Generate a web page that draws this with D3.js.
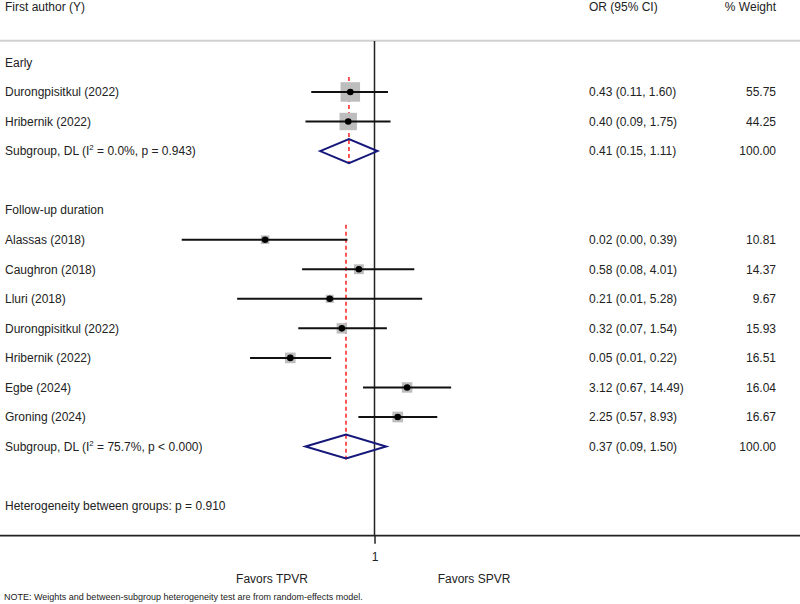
<!DOCTYPE html>
<html>
<head>
<meta charset="utf-8">
<script src="https://cdn.jsdelivr.net/npm/d3@7"></script>
<style>
  body { margin: 0; background: #fff; }
  text { font-family: "Liberation Sans", Arial, sans-serif; fill: #222; }
</style>
</head>
<body>
<script>
// rows of the table, top to bottom (row index = position)
const studies = ['Durongpisitkul (2022)', 'Hribernik (2022)',
    'Alassas (2018)', 'Caughron (2018)', 'Lluri (2018)', 'Durongpisitkul (2022)',
    'Hribernik (2022)', 'Egbe (2024)', 'Groning (2024)'];
const studyRow = [1, 2, 6, 7, 8, 9, 10, 11, 12];
const orValue = [0.43, 0.40, 0.022, 0.58, 0.21, 0.32, 0.053, 3.12, 2.25];
const ciLow = [0.11, 0.09, 0.0012, 0.08, 0.0083, 0.07, 0.013, 0.67, 0.57];
const ciHigh = [1.60, 1.75, 0.39, 4.01, 5.28, 1.54, 0.22, 14.49, 8.93];
const weights = [55.75, 44.25, 10.81, 14.37, 9.67, 15.93, 16.51, 16.04, 16.67];

const groupNames = ['Early', 'Follow-up duration'];
const groupRow = [0, 5];
const subRow = [3, 13];
const subI2 = ['0.0%', '75.7%'];
const subP = ['p = 0.943', 'p < 0.000'];
const subOR = [0.41, 0.37];
const subLow = [0.15, 0.09];
const subHigh = [1.11, 1.50];
const subFirstRow = [1, 6];

const hetText = 'Heterogeneity between groups: p = 0.910';
const hetRow = 15;
const xTicks = [1];

const width = 800, height = 604;
const colOR = 589, colW = 776;

const svg = d3.select('body').append('svg')
    .attr('width', width)
    .attr('height', height);

const x = d3.scaleLog()
    .domain([0.001, 10])
    .range([176.5, 440.5]);

const y = d3.scaleLinear()
    .domain([0, 15])
    .range([62.4, 62.4 + 29.55 * 15]);

const fmt = v => v.toFixed(2);

// header
svg.append('text').attr('x', 5).attr('y', 10.5).attr('font-size', 12).text('First author (Y)');
svg.append('text').attr('x', colOR).attr('y', 10.5).attr('font-size', 12).text('OR (95% CI)');
svg.append('text').attr('x', colW).attr('y', 10.5).attr('font-size', 12)
    .attr('text-anchor', 'end').text('% Weight');

svg.append('line')
    .attr('x1', 0).attr('x2', width)
    .attr('y1', 40.7).attr('y2', 40.7)
    .attr('stroke', '#d0d0d0').attr('stroke-width', 2);

// null line
svg.append('line')
    .attr('x1', x(1)).attr('x2', x(1))
    .attr('y1', 41).attr('y2', 536)
    .attr('stroke', '#222').attr('stroke-width', 1.5);

// red dashed overall lines per subgroup
svg.selectAll('.overall')
    .data(subOR)
    .enter().append('line')
    .attr('x1', d => x(d)).attr('x2', d => x(d))
    .attr('y1', (d, i) => y(subFirstRow[i]) - 15)
    .attr('y2', (d, i) => y(subRow[i]) + 13)
    .attr('stroke', '#ff2020').attr('stroke-width', 1.5)
    .attr('stroke-dasharray', '4,3');

// group labels
svg.selectAll('.glabel')
    .data(groupNames)
    .enter().append('text')
    .attr('x', 5).attr('y', (d, i) => y(groupRow[i]) + 4.3)
    .attr('font-size', 12).text(d => d);

// study rows
const rows = svg.selectAll('.study')
    .data(studies)
    .enter().append('g')
    .attr('class', 'study');

rows.append('text')
    .attr('x', 5).attr('y', (d, i) => y(studyRow[i]) + 4.3)
    .attr('font-size', 12).text(d => d);

const boxSize = w => 19.5 * Math.sqrt(w / 55.75);

rows.append('rect')
    .attr('x', (d, i) => x(orValue[i]) - boxSize(weights[i]) / 2)
    .attr('y', (d, i) => y(studyRow[i]) - boxSize(weights[i]) / 2)
    .attr('width', (d, i) => boxSize(weights[i]))
    .attr('height', (d, i) => boxSize(weights[i]))
    .attr('fill', '#bdbdbd');

rows.append('line')
    .attr('x1', (d, i) => x(ciLow[i])).attr('x2', (d, i) => x(ciHigh[i]))
    .attr('y1', (d, i) => y(studyRow[i])).attr('y2', (d, i) => y(studyRow[i]))
    .attr('stroke', '#111').attr('stroke-width', 2);

rows.append('circle')
    .attr('cx', (d, i) => x(orValue[i]))
    .attr('cy', (d, i) => y(studyRow[i]))
    .attr('r', 3.3).attr('fill', '#000');

rows.append('text')
    .attr('x', colOR).attr('y', (d, i) => y(studyRow[i]) + 4.3)
    .attr('font-size', 12)
    .text((d, i) => `${fmt(orValue[i])} (${fmt(ciLow[i])}, ${fmt(ciHigh[i])})`);

rows.append('text')
    .attr('x', colW).attr('y', (d, i) => y(studyRow[i]) + 4.3)
    .attr('font-size', 12).attr('text-anchor', 'end')
    .text((d, i) => fmt(weights[i]));

// subgroup rows
const subs = svg.selectAll('.sub')
    .data(subOR)
    .enter().append('g')
    .attr('class', 'sub');

const sl = subs.append('text')
    .attr('x', 5).attr('y', (d, i) => y(subRow[i]) + 4.3)
    .attr('font-size', 12);
sl.append('tspan').text('Subgroup, DL (I');
sl.append('tspan').attr('font-size', 8).attr('dy', -5).text('2');
sl.append('tspan').attr('dy', 5).text((d, i) => ` = ${subI2[i]}, ${subP[i]})`);

subs.append('path')
    .attr('d', (d, i) => {
        const cy = y(subRow[i]);
        return `M${x(subLow[i])},${cy}L${x(d)},${cy - 12}L${x(subHigh[i])},${cy}L${x(d)},${cy + 12}Z`;
    })
    .attr('fill', 'none')
    .attr('stroke', '#15187a').attr('stroke-width', 2);

subs.append('text')
    .attr('x', colOR).attr('y', (d, i) => y(subRow[i]) + 4.3)
    .attr('font-size', 12)
    .text((d, i) => `${fmt(d)} (${fmt(subLow[i])}, ${fmt(subHigh[i])})`);

subs.append('text')
    .attr('x', colW).attr('y', (d, i) => y(subRow[i]) + 4.3)
    .attr('font-size', 12).attr('text-anchor', 'end')
    .text('100.00');

svg.append('text')
    .attr('x', 5).attr('y', y(hetRow) + 4.3)
    .attr('font-size', 12).text(hetText);

// bottom axis
svg.append('line')
    .attr('x1', 0).attr('x2', width)
    .attr('y1', 535.7).attr('y2', 535.7)
    .attr('stroke', '#222').attr('stroke-width', 1.8);

const axis = svg.append('g')
    .attr('transform', 'translate(0,535.7)')
    .call(d3.axisBottom(x).tickValues(xTicks).tickSize(8).tickPadding(9)
        .tickFormat(d3.format('d')));
axis.select('.domain').remove();
axis.selectAll('.tick line').attr('stroke', '#222').attr('stroke-width', 1.5);
axis.selectAll('.tick text')
    .attr('font-size', 12)
    .attr('font-family', '"Liberation Sans", Arial, sans-serif')
    .attr('fill', '#222');

svg.append('text').attr('x', 272).attr('y', 583).attr('font-size', 12)
    .attr('text-anchor', 'middle').text('Favors TPVR');
svg.append('text').attr('x', 474).attr('y', 583).attr('font-size', 12)
    .attr('text-anchor', 'middle').text('Favors SPVR');

svg.append('text').attr('x', 4).attr('y', 600).attr('font-size', 9)
    .text('NOTE: Weights and between-subgroup heterogeneity test are from random-effects model.');
</script>
</body>
</html>
